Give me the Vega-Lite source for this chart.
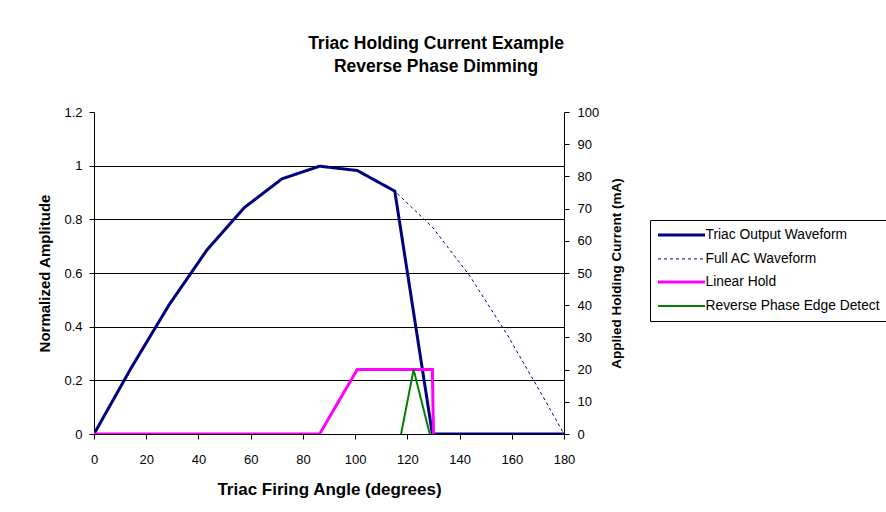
{
  "$schema": "https://vega.github.io/schema/vega-lite/v6.json",
  "width": 470,
  "height": 322,
  "autosize": {"type": "none"},
  "padding": {"left": 94, "top": 112, "right": 322, "bottom": 78},
  "background": "white",
  "config": {"view": {"stroke": null}, "font": "Liberation Sans"},
  "title": {
    "text": ["Triac Holding Current Example", "Reverse Phase Dimming"],
    "fontSize": 17.5,
    "fontWeight": "bold",
    "color": "black",
    "anchor": "middle",
    "frame": "group",
    "dx": 107,
    "offset": 31,
    "lineHeight": 23
  },
  "data": {
    "values": [
      {"series": "Full AC Waveform", "i": 0, "x": 0, "y": 0},
      {"series": "Full AC Waveform", "i": 1, "x": 14.4, "y": 0.249},
      {"series": "Full AC Waveform", "i": 2, "x": 28.8, "y": 0.482},
      {"series": "Full AC Waveform", "i": 3, "x": 43.2, "y": 0.685},
      {"series": "Full AC Waveform", "i": 4, "x": 57.6, "y": 0.844},
      {"series": "Full AC Waveform", "i": 5, "x": 72, "y": 0.951},
      {"series": "Full AC Waveform", "i": 6, "x": 86.4, "y": 0.998},
      {"series": "Full AC Waveform", "i": 7, "x": 100.8, "y": 0.982},
      {"series": "Full AC Waveform", "i": 8, "x": 115.2, "y": 0.905},
      {"series": "Full AC Waveform", "i": 9, "x": 129.6, "y": 0.771},
      {"series": "Full AC Waveform", "i": 10, "x": 144, "y": 0.588},
      {"series": "Full AC Waveform", "i": 11, "x": 158.4, "y": 0.368},
      {"series": "Full AC Waveform", "i": 12, "x": 172.8, "y": 0.125},
      {"series": "Full AC Waveform", "i": 13, "x": 180, "y": 0},
      {"series": "Triac Output Waveform", "i": 0, "x": 0, "y": 0},
      {"series": "Triac Output Waveform", "i": 1, "x": 14.4, "y": 0.249},
      {"series": "Triac Output Waveform", "i": 2, "x": 28.8, "y": 0.482},
      {"series": "Triac Output Waveform", "i": 3, "x": 43.2, "y": 0.685},
      {"series": "Triac Output Waveform", "i": 4, "x": 57.6, "y": 0.844},
      {"series": "Triac Output Waveform", "i": 5, "x": 72, "y": 0.951},
      {"series": "Triac Output Waveform", "i": 6, "x": 86.4, "y": 0.998},
      {"series": "Triac Output Waveform", "i": 7, "x": 100.8, "y": 0.982},
      {"series": "Triac Output Waveform", "i": 8, "x": 115.2, "y": 0.905},
      {"series": "Triac Output Waveform", "i": 9, "x": 129.6, "y": 0},
      {"series": "Triac Output Waveform", "i": 10, "x": 180, "y": 0},
      {"series": "Linear Hold", "i": 0, "x": 0, "y": 0},
      {"series": "Linear Hold", "i": 1, "x": 86.4, "y": 0},
      {"series": "Linear Hold", "i": 2, "x": 100.8, "y": 20},
      {"series": "Linear Hold", "i": 3, "x": 129.6, "y": 20},
      {"series": "Linear Hold", "i": 4, "x": 130, "y": 0},
      {"series": "Reverse Phase Edge Detect", "i": 0, "x": 117.6, "y": 0},
      {"series": "Reverse Phase Edge Detect", "i": 1, "x": 122.4, "y": 20},
      {"series": "Reverse Phase Edge Detect", "i": 2, "x": 128.6, "y": 0}
    ]
  },
  "encoding": {
    "x": {
      "field": "x",
      "type": "quantitative",
      "scale": {"domain": [0, 180], "nice": false},
      "axis": {
        "values": [0, 20, 40, 60, 80, 100, 120, 140, 160, 180],
        "title": "Triac Firing Angle (degrees)",
        "titleFontSize": 17,
        "titleFontWeight": "bold",
        "titleColor": "black",
        "titlePadding": 15,
        "labelFontSize": 13,
        "labelColor": "black",
        "labelPadding": 14,
        "labelFlush": false,
        "tickSize": 5,
        "tickColor": "black",
        "domainColor": "black",
        "grid": false
      }
    },
    "order": {"field": "i", "type": "quantitative"},
    "color": {
      "field": "series",
      "type": "nominal",
      "scale": {
        "domain": ["Triac Output Waveform", "Full AC Waveform", "Linear Hold", "Reverse Phase Edge Detect"],
        "range": ["#000080", "#000080", "#FF00FF", "#008000"]
      },
      "legend": {
        "orient": "none",
        "legendX": 556,
        "legendY": 108,
        "title": null,
        "symbolType": "M-4.2727,0H4.2727",
        "symbolSize": 121,
        "symbolOffset": 16.5,
        "labelFontSize": 13.8,
        "labelColor": "black",
        "labelLimit": 400,
        "labelOffset": 17,
        "padding": 8,
        "rowPadding": 9,
        "strokeColor": "black",
        "fillColor": "white"
      }
    },
    "strokeDash": {
      "field": "series",
      "type": "nominal",
      "scale": {
        "type": "ordinal",
        "domain": ["Triac Output Waveform", "Full AC Waveform", "Linear Hold", "Reverse Phase Edge Detect"],
        "range": [[1, 0], [3, 3], [1, 0], [1, 0]]
      }
    },
    "strokeWidth": {
      "field": "series",
      "type": "nominal",
      "scale": {
        "type": "ordinal",
        "domain": ["Triac Output Waveform", "Full AC Waveform", "Linear Hold", "Reverse Phase Edge Detect"],
        "range": [3, 1, 3, 2]
      }
    }
  },
  "layer": [
    {
      "encoding": {
        "y": {
          "field": "y",
          "type": "quantitative",
          "scale": {"domain": [0, 1.2], "nice": false},
          "axis": {
            "orient": "left",
            "values": [0, 0.2, 0.4, 0.6, 0.8, 1, 1.2],
            "format": "~g",
            "title": "Normalized Amplitude",
            "titleFontSize": 15,
            "titleFontWeight": "bold",
            "titleColor": "black",
            "titlePadding": 11,
            "labelFontSize": 13,
            "labelColor": "black",
            "labelPadding": 7,
            "tickSize": 5,
            "tickColor": "black",
            "domainColor": "black",
            "grid": true,
            "gridColor": "#000000",
            "gridOpacity": {"condition": {"test": "datum.value > 1.1", "value": 0}, "value": 1}
          }
        }
      },
      "layer": [
        {
          "transform": [{"filter": "datum.series === 'Full AC Waveform'"}],
          "mark": {"type": "line", "clip": true}
        },
        {
          "transform": [{"filter": "datum.series === 'Triac Output Waveform'"}],
          "mark": {"type": "line", "clip": true}
        }
      ]
    },
    {
      "encoding": {
        "y": {
          "field": "y",
          "type": "quantitative",
          "scale": {"domain": [0, 100], "nice": false},
          "axis": {
            "orient": "right",
            "values": [0, 10, 20, 30, 40, 50, 60, 70, 80, 90, 100],
            "title": "Applied Holding Current (mA)",
            "titleFontSize": 13.5,
            "titleFontWeight": "bold",
            "titleColor": "black",
            "titleAngle": 270,
            "titlePadding": 25,
            "labelFontSize": 13,
            "labelColor": "black",
            "labelPadding": 8,
            "tickSize": 5,
            "tickColor": "black",
            "domainColor": "black",
            "grid": false
          }
        }
      },
      "layer": [
        {
          "transform": [{"filter": "datum.series === 'Linear Hold'"}],
          "mark": {"type": "line", "clip": true}
        },
        {
          "transform": [{"filter": "datum.series === 'Reverse Phase Edge Detect'"}],
          "mark": {"type": "line", "clip": true}
        }
      ]
    }
  ],
  "resolve": {"scale": {"y": "independent"}}
}
